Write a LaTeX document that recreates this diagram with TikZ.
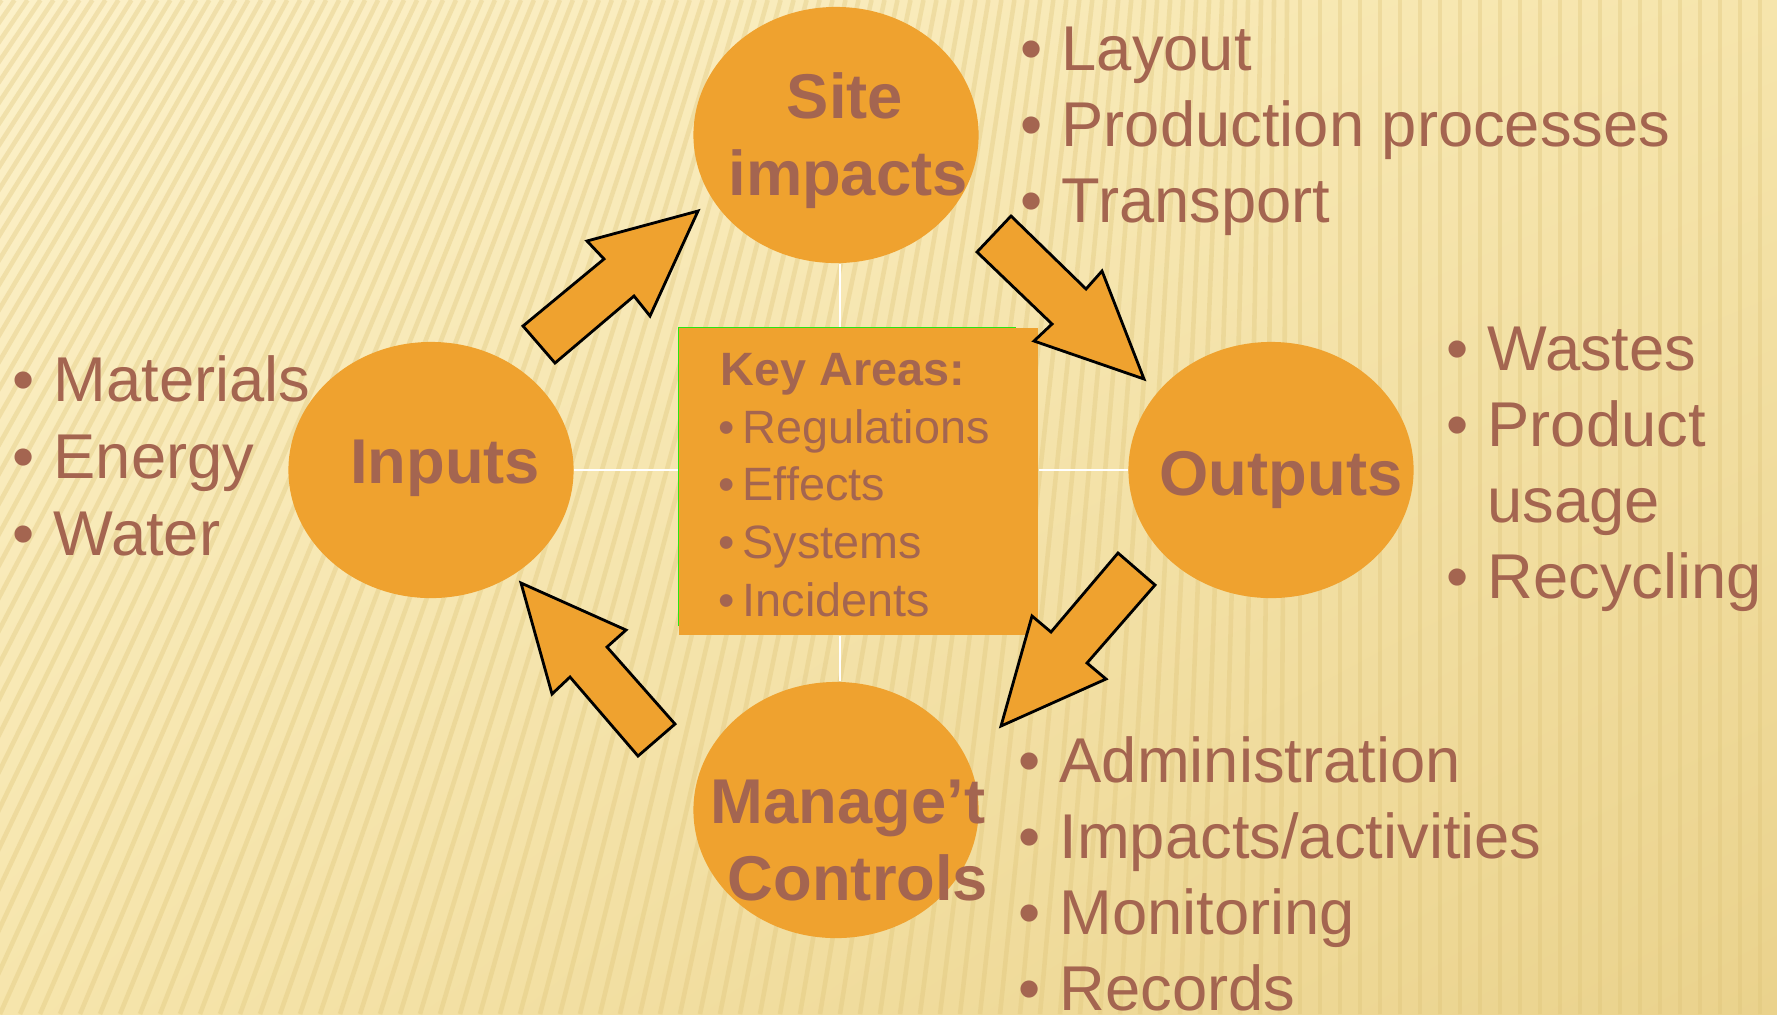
\documentclass[tikz,border=0pt]{standalone}
\usepackage{fontspec}
\setmainfont{Liberation Sans}
\usepackage{xcolor}
\usetikzlibrary{shapes.geometric,shadings}

\definecolor{bglight}{RGB}{252,241,201}
\definecolor{bgmid}{RGB}{246,229,172}
\definecolor{bgdark}{RGB}{234,210,140}
\definecolor{stripecol}{RGB}{222,196,120}
\definecolor{orangefill}{RGB}{239,162,47}
\definecolor{browntext}{RGB}{164,101,80}
\definecolor{edgegreen}{RGB}{40,230,20}

\newcommand{\bulletitem}[1]{\llap{•\hspace{0.3em}}#1}
\newcommand{\keyitem}[1]{\llap{•\hspace{0.17em}}#1}

\begin{document}
\begin{tikzpicture}[x=0.01cm,y=-0.01cm,
  blob/.style={ellipse,fill=orangefill,inner sep=0,minimum width=2.85cm,minimum height=2.56cm},
  bigbold/.style={anchor=base,text=browntext,font=\fontsize{18}{21}\selectfont\bfseries,inner sep=0},
  listtext/.style={anchor=base west,text=browntext,font=\fontsize{18}{21}\selectfont,inner sep=0},
  keytext/.style={anchor=base west,text=browntext,font=\fontsize{13.3}{16}\selectfont,inner sep=0},
  blockarrow/.style={fill=orangefill,draw=black,line width=0.8pt,line join=miter},
  crossline/.style={draw=white,line width=0.6pt}]
\useasboundingbox (0,0) rectangle (1777,1014);

% Background
\shade[upper left=bglight,upper right=bgmid,lower left=bgmid,lower right=bgdark] (0,0) rectangle (1777,1014);
\begin{scope}
\clip (0,0) rectangle (1777,1014);
\foreach \b in {-900,-880,...,1790}{
  \pgfmathsetmacro\tp{\b+456*max(0,1-\b/1300)}
  \draw[stripecol,line width=1.3pt,opacity=0.35] (\b,1014) -- (\tp,0);
}
\end{scope}

% Circles and key areas box
\node[blob] (site) at (836,135) {};
\node[blob] (inputs) at (431,470) {};
\node[blob] (outputs) at (1271,470) {};
\node[blob] (controls) at (836,810) {};
\node[fill=orangefill,minimum width=3.59cm,minimum height=3.07cm,inner sep=0] (keyareas) at (858.5,481.5) {};
\draw[edgegreen,line width=0.4pt] ([yshift=0.1cm]keyareas.south west) -- (keyareas.north west) -- ++(338,0);

% Cross lines
\draw[crossline] ([xshift=0.04cm]site.south) -- ([xshift=0.04cm]site.south |- keyareas.north);
\draw[crossline] ([xshift=0.04cm]controls.north) -- ([xshift=0.04cm]controls.north |- keyareas.south);
\draw[crossline] (inputs.east) -- (inputs.east -| keyareas.west);
\draw[crossline] (outputs.west) -- (outputs.west -| keyareas.east);

% Block arrows
\draw[blockarrow] (523,326) -- (604,259) -- (587,241) -- (698,211) -- (650,316) -- (634,296) -- (555,363) -- cycle;
\draw[blockarrow] (1011,216) -- (1086,289) -- (1102,271) -- (1144,379) -- (1034,341) -- (1052,324) -- (977,252) -- cycle;
\draw[blockarrow] (1118,553) -- (1155,585) -- (1087,663) -- (1106,679) -- (1001,726) -- (1032,616) -- (1051,632) -- cycle;
\draw[blockarrow] (521,583) -- (626,630) -- (607,647) -- (675,724) -- (638,756) -- (570,677) -- (552,694) -- cycle;

% Circle labels
\node[bigbold] (sitea) at (845,118) {Site};
\node[bigbold] (siteb) at (848,195) {impacts};
\node[bigbold] (inputsa) at (445,483) {Inputs};
\node[bigbold] (outputsa) at (1281,495) {Outputs};
\node[bigbold] (controlsa) at (848,823) {Manage’t};
\node[bigbold] (controlsb) at (858,900) {Controls};

% Key areas
\node[keytext,font=\fontsize{13.3}{16}\selectfont\bfseries] (keytitle) at (720,385) {Key Areas:};
\foreach \txt [count=\i from 0] in {Regulations,Effects,Systems,Incidents}
  \node[keytext] (key\i) at (742,443+57.7*\i) {\keyitem{\txt}};

% Lists
\foreach \txt [count=\i from 0] in {Layout,Production processes,Transport}
  \node[listtext] (sitelist\i) at (1061,70+76*\i) {\bulletitem{\txt}};
\foreach \txt [count=\i from 0] in {Materials,Energy,Water}
  \node[listtext] (inputslist\i) at (53,401+77*\i) {\bulletitem{\txt}};
\node[listtext] (outputslist0) at (1487,370) {\bulletitem{Wastes}};
\node[listtext] (outputslist1) at (1487,446) {\bulletitem{Product}};
\node[listtext] (outputslist2) at (1487,522) {usage};
\node[listtext] (outputslist3) at (1487,598) {\bulletitem{Recycling}};
\foreach \txt [count=\i from 0] in {Administration,Impacts/activities,Monitoring,Records}
  \node[listtext] (controlslist\i) at (1059,782+76*\i) {\bulletitem{\txt}};
\end{tikzpicture}
\end{document}
